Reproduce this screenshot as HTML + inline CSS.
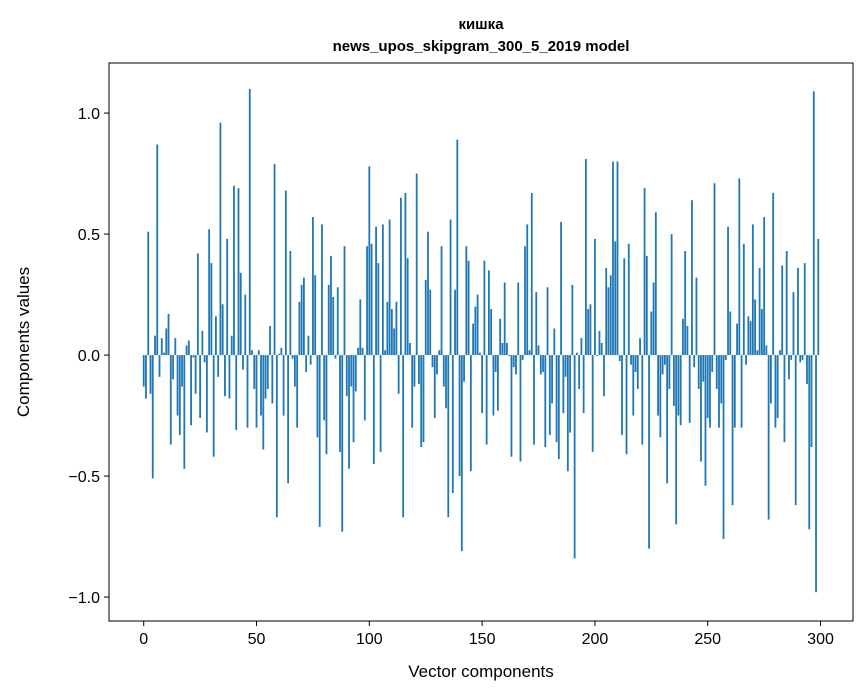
<!DOCTYPE html>
<html><head><meta charset="utf-8"><style>
body{margin:0;background:#fff;}
svg{display:block;font-family:"Liberation Sans","DejaVu Sans",sans-serif;}
</style></head><body>
<svg id="chart" width="867" height="696" xmlns="http://www.w3.org/2000/svg">
<rect width="867" height="696" fill="#fff"/>
<text x="481" y="29" text-anchor="middle" font-size="15" font-weight="bold">кишка</text>
<text x="481" y="51" text-anchor="middle" font-size="15" font-weight="bold">news_upos_skipgram_300_5_2019 model</text>
<g id="bars"></g>
<g id="xticks"></g>
<g id="yticks"></g>
<rect x="109" y="63" width="744" height="558" fill="none" stroke="#000" stroke-width="1"/>
<text x="481" y="677" text-anchor="middle" font-size="17">Vector components</text>
<text transform="translate(29,342) rotate(-90)" text-anchor="middle" font-size="17">Components values</text>
</svg>
<script>
const values = [
-0.13,-0.18,0.51,-0.16,-0.51,0.08,0.87,-0.09,0.07,0.01,
0.11,0.17,-0.37,-0.10,0.07,-0.25,-0.33,-0.13,-0.47,0.04,
0.06,-0.29,-0.01,-0.16,0.42,-0.26,0.10,-0.03,-0.32,0.52,
0.38,-0.42,0.16,-0.09,0.96,0.21,-0.17,0.48,-0.18,0.08,
0.70,-0.31,0.69,0.34,-0.06,0.25,-0.30,1.10,0.02,-0.14,
-0.30,0.02,-0.25,-0.39,-0.18,-0.14,0.12,-0.20,0.79,-0.67,
0.005,0.03,-0.25,0.68,-0.53,0.43,-0.015,-0.13,-0.30,0.22,
0.29,0.32,-0.07,0.08,-0.04,0.57,0.33,-0.34,-0.71,0.54,
-0.27,-0.41,0.29,0.41,0.24,-0.015,0.28,-0.40,-0.73,0.45,
-0.17,-0.47,-0.13,-0.36,-0.15,0.03,0.23,0.03,-0.27,0.45,
0.78,0.46,-0.45,0.53,0.38,-0.40,0.54,0.02,0.22,0.56,
0.19,0.11,0.22,-0.16,0.65,-0.67,0.67,0.40,0.05,-0.30,
-0.13,0.75,-0.12,-0.38,-0.36,0.31,0.51,0.27,-0.05,-0.26,
-0.08,0.02,0.45,-0.13,-0.22,-0.67,0.56,-0.57,0.27,0.89,
-0.50,-0.81,-0.11,0.45,0.39,-0.48,0.13,0.20,0.25,0.01,
-0.24,0.39,-0.37,0.35,0.19,-0.25,-0.07,-0.23,0.15,0.05,
0.30,0.05,-0.004,-0.42,-0.05,-0.08,0.30,-0.44,-0.02,0.45,
0.54,0.02,0.67,-0.37,0.26,0.04,-0.08,-0.07,-0.38,0.28,
-0.33,-0.20,0.11,-0.36,-0.43,0.55,-0.24,-0.09,-0.48,-0.32,
0.29,-0.84,0.01,-0.14,0.07,-0.24,0.81,0.19,0.21,-0.40,
0.48,-0.004,0.10,0.05,-0.17,0.36,0.28,0.33,0.80,0.47,
0.80,-0.025,-0.33,0.40,-0.41,0.46,-0.04,-0.25,-0.07,-0.14,
0.07,-0.37,0.69,0.41,-0.80,0.18,0.30,0.59,-0.25,-0.34,
-0.08,-0.04,-0.53,-0.14,0.50,-0.21,-0.70,-0.25,-0.29,0.15,
0.43,0.12,-0.28,0.64,-0.05,0.32,-0.14,-0.44,-0.11,-0.54,
-0.26,-0.30,-0.07,0.71,-0.14,-0.30,-0.20,-0.76,-0.02,0.53,
0.18,-0.62,-0.30,0.13,0.73,-0.30,0.46,-0.04,0.16,0.14,
0.54,0.23,0.02,0.36,0.19,0.57,0.04,-0.68,-0.20,0.67,
-0.30,-0.26,0.02,0.37,-0.36,0.43,-0.10,-0.02,0.26,-0.62,
0.36,-0.03,-0.02,0.38,-0.12,-0.72,-0.38,1.09,-0.98,0.48
];
const xTickValues = [0,50,100,150,200,250,300];
const xTickLabels = ["0","50","100","150","200","250","300"];
const yTickValues = [1.0,0.5,0.0,-0.5,-1.0];
const yTickLabels = ["1.0","0.5","0.0","\u22120.5","\u22121.0"];

const X0=109,X1=853,Y0=63,Y1=621;
const xmin=-15.39,xmax=314.39,ymin=-1.099,ymax=1.207;
const xs=v=>X0+(v-xmin)/(xmax-xmin)*(X1-X0);
const ys=v=>Y1-(v-ymin)/(ymax-ymin)*(Y1-Y0);
const NS="http://www.w3.org/2000/svg";
const bars=document.getElementById('bars');
values.forEach((v,i)=>{
  const r=document.createElementNS(NS,'rect');
  const x=xs(i-0.4), w=xs(i+0.4)-x;
  const y=Math.min(ys(v),ys(0)), h=Math.abs(ys(v)-ys(0));
  r.setAttribute('x',x);r.setAttribute('y',y);r.setAttribute('width',w);r.setAttribute('height',h);
  r.setAttribute('fill','#1f77b4');
  
  
  bars.appendChild(r);
});
const xg=document.getElementById('xticks');
xTickValues.forEach((v,i)=>{
  const x=xs(v);
  const l=document.createElementNS(NS,'line');
  l.setAttribute('x1',x);l.setAttribute('x2',x);l.setAttribute('y1',Y1);l.setAttribute('y2',Y1+5);l.setAttribute('stroke','#000');
  
  
  xg.appendChild(l);
  const t=document.createElementNS(NS,'text');
  t.setAttribute('x',x);t.setAttribute('y',Y1+23);t.setAttribute('text-anchor','middle');t.setAttribute('font-size','16');
  t.textContent=xTickLabels[i];
  
  
  xg.appendChild(t);
});
const yg=document.getElementById('yticks');
yTickValues.forEach((v,i)=>{
  const y=ys(v);
  const l=document.createElementNS(NS,'line');
  l.setAttribute('x1',X0-5);l.setAttribute('x2',X0);l.setAttribute('y1',y);l.setAttribute('y2',y);l.setAttribute('stroke','#000');
  
  
  yg.appendChild(l);
  const t=document.createElementNS(NS,'text');
  t.setAttribute('x',X0-9);t.setAttribute('y',y+6);t.setAttribute('text-anchor','end');t.setAttribute('font-size','16');
  t.textContent=yTickLabels[i];
  
  
  yg.appendChild(t);
});
</script>
</body></html>
